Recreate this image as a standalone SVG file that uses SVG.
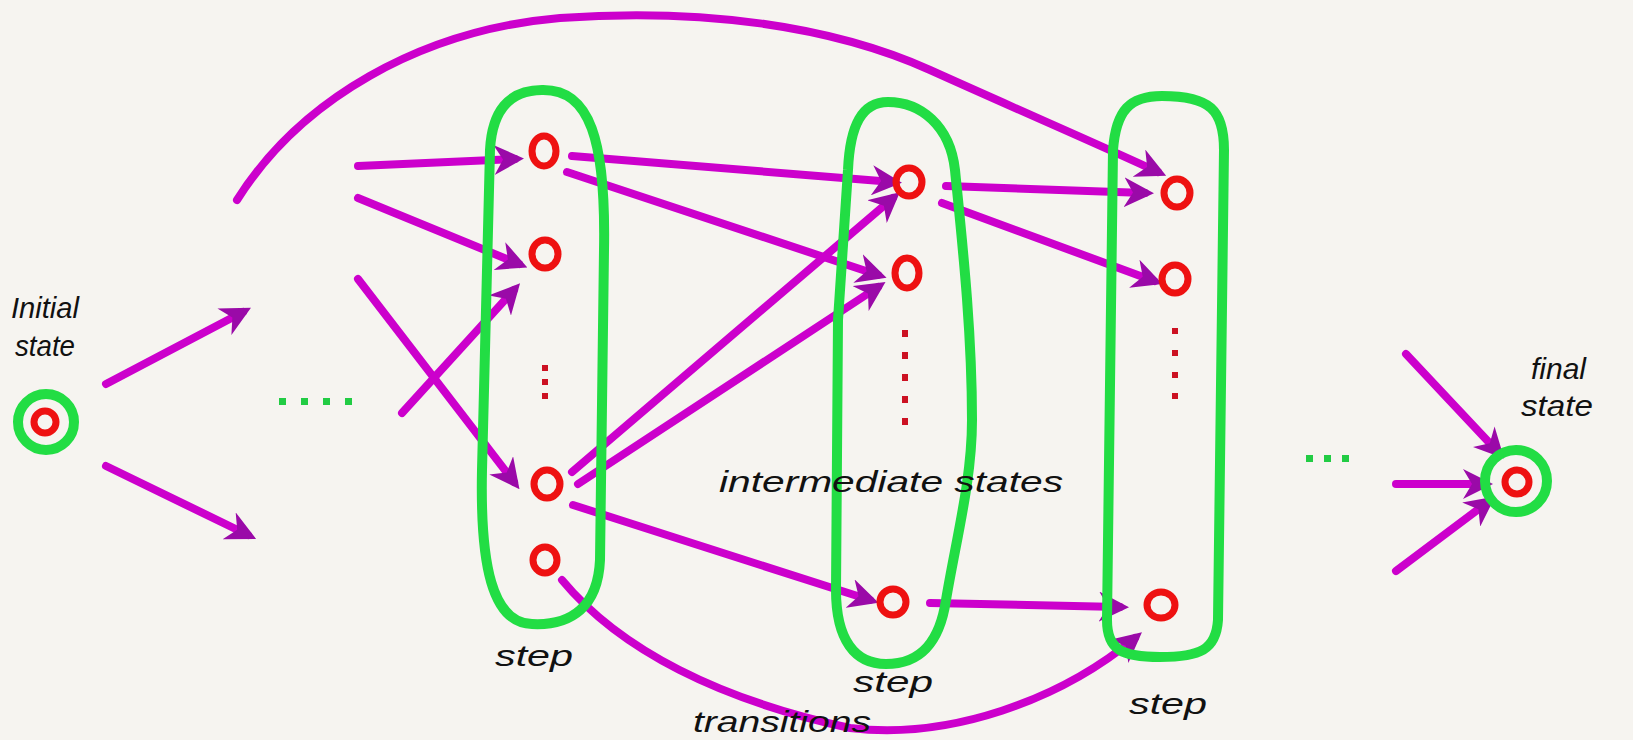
<svg xmlns="http://www.w3.org/2000/svg" width="1633" height="740" viewBox="0 0 1633 740">
<style>
.bg{fill:#f6f4f0}
.grp{fill:none;stroke:#22dd44;stroke-width:10;stroke-linecap:round;stroke-linejoin:round}
.st{fill:none;stroke:#ee1111;stroke-width:7}
.dot{fill:#cc1122}
.gdot{fill:#22cc44}
.tr{fill:none;stroke:#cc00cc;stroke-width:8;stroke-linecap:round;marker-end:url(#ah)}
.lbl{font-family:"Liberation Sans",Arial,sans-serif;font-style:italic;font-size:30px;fill:#111}
</style>
<defs>
<marker id="ah" viewBox="0 0 10 10" refX="7" refY="5" markerWidth="30" markerHeight="30" markerUnits="userSpaceOnUse" orient="auto">
<path d="M0,0 L10,5 L0,10 L3,5 Z" fill="#9a0aa8"/>
</marker>
</defs>
<rect class="bg" x="0" y="0" width="1633" height="740"/>

<g id="connectors">
<path class="tr" d="M237,200 C300,100 420,30 560,18 C700,8 830,25 930,70 C1030,115 1100,145 1158,172"/>
<path class="tr" d="M106,384 L243,312"/>
<path class="tr" d="M106,466 L248,535"/>
<path class="tr" d="M358,166 L515,159"/>
<path class="tr" d="M358,198 L519,264"/>
<path class="tr" d="M358,279 L514,482"/>
<path class="tr" d="M402,413 L514,290"/>
<path class="tr" d="M572,156 L893,182"/>
<path class="tr" d="M567,172 L878,275"/>
<path class="tr" d="M572,472 L893,198"/>
<path class="tr" d="M578,484 L878,287"/>
<path class="tr" d="M573,505 L870,600"/>
<path class="tr" d="M562,580 C620,650 720,700 850,728 C950,740 1060,700 1135,638"/>
<path class="tr" d="M946,186 L1145,193"/>
<path class="tr" d="M942,203 L1154,281"/>
<path class="tr" d="M930,603 L1120,607"/>
<path class="tr" d="M1406,354 L1498,452"/>
<path class="tr" d="M1396,484 L1484,484"/>
<path class="tr" d="M1396,571 L1488,502"/>
</g>

<g id="initial-state">
<circle class="grp" cx="46" cy="422" r="28"/>
<ellipse class="st" cx="45" cy="422" rx="11" ry="11"/>
<text class="lbl" x="11" y="318" textLength="68" lengthAdjust="spacingAndGlyphs">Initial</text>
<text class="lbl" x="15" y="356" textLength="60" lengthAdjust="spacingAndGlyphs">state</text>
</g>

<g id="left-ellipsis">
<rect class="gdot" x="279" y="398" width="7" height="7"/>
<rect class="gdot" x="301" y="398" width="7" height="7"/>
<rect class="gdot" x="323" y="398" width="7" height="7"/>
<rect class="gdot" x="345" y="398" width="7" height="7"/>
</g>

<g id="step1">
<path class="grp" d="M542,90 C508,90 492,112 490,150 L482,470 C480,565 492,623 532,624 C572,626 598,606 600,560 L604,250 C606,140 590,89 542,90 Z"/>
<ellipse class="st" cx="544" cy="151" rx="12" ry="15"/>
<ellipse class="st" cx="545" cy="254" rx="13" ry="14"/>
<rect class="dot" x="542" y="365" width="6" height="6"/>
<rect class="dot" x="542" y="379" width="6" height="6"/>
<rect class="dot" x="542" y="393" width="6" height="6"/>
<ellipse class="st" cx="547" cy="484" rx="13" ry="14"/>
<ellipse class="st" cx="545" cy="560" rx="12" ry="13"/>
<text class="lbl" x="495" y="666" textLength="78" lengthAdjust="spacingAndGlyphs">step</text>
</g>

<g id="step2">
<path class="grp" d="M888,102 C862,102 850,125 848,170 L838,320 L836,590 C836,640 855,664 886,664 C922,664 940,640 946,600 C956,540 972,480 972,420 C972,330 962,240 955,170 C950,125 920,102 888,102 Z"/>
<ellipse class="st" cx="909" cy="182" rx="13" ry="14"/>
<ellipse class="st" cx="907" cy="273" rx="12" ry="15"/>
<rect class="dot" x="902" y="330" width="6" height="7"/>
<rect class="dot" x="902" y="352" width="6" height="7"/>
<rect class="dot" x="902" y="374" width="6" height="7"/>
<rect class="dot" x="902" y="396" width="6" height="7"/>
<rect class="dot" x="902" y="418" width="6" height="7"/>
<ellipse class="st" cx="893" cy="602" rx="13" ry="13"/>
<text class="lbl" x="853" y="692" textLength="80" lengthAdjust="spacingAndGlyphs">step</text>
</g>

<g id="step3">
<path class="grp" d="M1162,96 C1130,96 1116,110 1113,150 L1107,620 C1107,650 1122,657 1160,657 C1200,657 1216,650 1218,620 L1224,150 C1224,110 1210,96 1162,96 Z"/>
<ellipse class="st" cx="1177" cy="193" rx="13" ry="14"/>
<ellipse class="st" cx="1175" cy="279" rx="13" ry="14"/>
<rect class="dot" x="1172" y="328" width="6" height="6"/>
<rect class="dot" x="1172" y="350" width="6" height="6"/>
<rect class="dot" x="1172" y="372" width="6" height="6"/>
<rect class="dot" x="1172" y="393" width="6" height="6"/>
<ellipse class="st" cx="1161" cy="605" rx="14" ry="13"/>
<text class="lbl" x="1129" y="714" textLength="78" lengthAdjust="spacingAndGlyphs">step</text>
</g>

<g id="labels">
<text class="lbl" x="719" y="492" textLength="344" lengthAdjust="spacingAndGlyphs">intermediate states</text>
<text class="lbl" x="693" y="732" textLength="178" lengthAdjust="spacingAndGlyphs">transitions</text>
</g>

<g id="right-ellipsis">
<rect class="gdot" x="1306" y="455" width="7" height="7"/>
<rect class="gdot" x="1324" y="455" width="7" height="7"/>
<rect class="gdot" x="1342" y="455" width="7" height="7"/>
</g>

<g id="final-state">
<circle class="grp" cx="1516" cy="481" r="31"/>
<ellipse class="st" cx="1517" cy="482" rx="12" ry="12"/>
<text class="lbl" x="1531" y="379" textLength="55" lengthAdjust="spacingAndGlyphs">final</text>
<text class="lbl" x="1521" y="416" textLength="72" lengthAdjust="spacingAndGlyphs">state</text>
</g>
</svg>
